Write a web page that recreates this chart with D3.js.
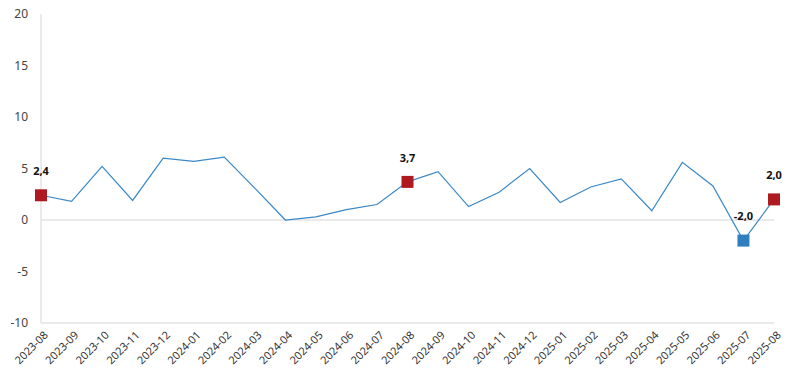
<!DOCTYPE html>
<html>
<head>
<meta charset="utf-8">
<script src="https://cdn.jsdelivr.net/npm/d3@7"></script>
<style>
  body { margin: 0; background: #fff; }
  text { font-family: "Noto Sans", "Open Sans", sans-serif; }
</style>
</head>
<body>
<div id="chart"></div>
<script>
// data
var months = ["2023-08","2023-09","2023-10","2023-11","2023-12","2024-01","2024-02","2024-03",
  "2024-04","2024-05","2024-06","2024-07","2024-08","2024-09","2024-10","2024-11","2024-12",
  "2025-01","2025-02","2025-03","2025-04","2025-05","2025-06","2025-07","2025-08"];
var values = [2.4, 1.8, 5.2, 1.9, 6.0, 5.7, 6.1, 3.1, 0.0, 0.3, 1.0, 1.5, 3.7, 4.7, 1.3, 2.7, 5.0,
  1.7, 3.2, 4.0, 0.9, 5.6, 3.3, -2.0, 2.0];
var yTicks = [-10, -5, 0, 5, 10, 15, 20];
// highlighted points: month, label, colour
var highlights = [
  {month: "2023-08", label: "2,4", color: "#ae1a1f"},
  {month: "2024-08", label: "3,7", color: "#ae1a1f"},
  {month: "2025-07", label: "-2,0", color: "#2f7fbf"},
  {month: "2025-08", label: "2,0", color: "#ae1a1f"}
];

var width = 801, height = 383;
var margin = {top: 14, right: 27, bottom: 60, left: 41};

var svg = d3.select("#chart")
  .append("svg")
    .attr("width", width)
    .attr("height", height);

var x = d3.scalePoint()
  .domain(months)
  .range([margin.left, width - margin.right]);

var y = d3.scaleLinear()
  .domain([-10, 20])
  .range([height - margin.bottom, margin.top]);

// y axis line
svg.append("line")
  .attr("x1", margin.left).attr("x2", margin.left)
  .attr("y1", y(20)).attr("y2", y(-10))
  .attr("stroke", "#e3e3e3").attr("stroke-width", 1.5);

// zero line and bottom line
[0, -10].forEach(function(v) {
  svg.append("line")
    .attr("x1", margin.left).attr("x2", width - margin.right)
    .attr("y1", y(v)).attr("y2", y(v))
    .attr("stroke", "#e3e3e3").attr("stroke-width", 1.5);
});

// y tick labels
svg.append("g")
  .selectAll("text")
  .data(yTicks)
  .enter().append("text")
    .attr("x", 28)
    .attr("y", function(d) { return y(d); })
    .attr("dy", "0.35em")
    .attr("text-anchor", "end")
    .attr("font-size", 12)
    .attr("fill", "#444")
    .text(function(d) { return d; });

// x tick labels
svg.append("g")
  .selectAll("text")
  .data(months)
  .enter().append("text")
    .attr("transform", function(d) { return "translate(" + (x(d) + 5) + "," + (y(-10) + 10) + ") rotate(-45)"; })
    .attr("text-anchor", "end")
    .attr("dy", "0.35em")
    .attr("font-size", 11)
    .attr("fill", "#333")
    .text(function(d) { return d; });

// the line
svg.append("path")
  .datum(values)
  .attr("fill", "none")
  .attr("stroke", "#3a88c8")
  .attr("stroke-width", 1.2)
  .attr("d", d3.line()
    .x(function(d, i) { return x(months[i]); })
    .y(function(d) { return y(d); }));

// markers and labels
var hl = svg.append("g")
  .selectAll("g")
  .data(highlights)
  .enter().append("g");

hl.append("rect")
  .attr("x", function(d) { return x(d.month) - 6; })
  .attr("y", function(d) { return y(values[months.indexOf(d.month)]) - 6; })
  .attr("width", 12).attr("height", 12)
  .attr("fill", function(d) { return d.color; });

hl.append("text")
  .attr("x", function(d) { return x(d.month); })
  .attr("y", function(d) { return y(values[months.indexOf(d.month)]) - 24; })
  .attr("dy", "0.35em")
  .attr("text-anchor", "middle")
  .attr("font-size", 11)
  .attr("font-weight", "bold")
  .attr("fill", "#111")
  .text(function(d) { return d.label; });
</script>
</body>
</html>
